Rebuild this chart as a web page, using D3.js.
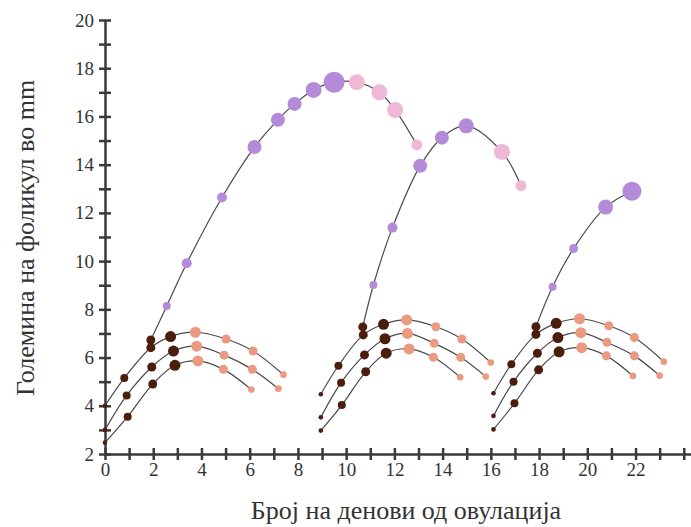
<!DOCTYPE html>
<html lang="mk">
<head>
  <meta charset="UTF-8">
  <title>Големина на фоликул</title>
  <style>
    body { margin: 0; background: #fff; }
    svg { display: block; }
    .axis path, .axis line { stroke: #3a3a3a; stroke-width: 2.5px; }
    .title { font-family: "Liberation Serif", "DejaVu Serif", serif; font-size: 26px; fill: #333; }
    .curve { fill: none; stroke: #4a4a4a; stroke-width: 1.2px; }
  </style>
</head>
<body>
  <svg width="691" height="527"></svg>
  <script src="https://d3js.org/d3.v7.min.js"></script>
  <script>
    // x = days from ovulation, y = follicle size (mm)
    const xTicks = d3.range(0, 25);
    const yTicks = d3.range(2, 21);

    // small follicles, wave 1
    const w1Top = [[0, 4.0], [0.8, 5.15], [1.9, 6.41], [2.72, 6.87], [3.75, 7.05], [5.02, 6.77], [6.14, 6.27], [7.4, 5.29]];
    const w1Mid = [[0, 3.0], [0.9, 4.43], [1.94, 5.61], [2.84, 6.27], [3.8, 6.47], [4.94, 6.1], [6.11, 5.51], [7.19, 4.71]];
    const w1Low = [[0, 2.47], [0.94, 3.55], [1.98, 4.9], [2.9, 5.68], [3.85, 5.86], [4.91, 5.51], [6.07, 4.67]];

    // small follicles, wave 2
    const w2Top = [[8.95, 4.48], [9.68, 5.66], [10.71, 6.94], [11.55, 7.38], [12.51, 7.56], [13.72, 7.28], [14.8, 6.77], [16.0, 5.79]];
    const w2Mid = [[8.95, 3.52], [9.79, 4.96], [10.76, 6.11], [11.61, 6.78], [12.54, 7.0], [13.65, 6.59], [14.75, 6.01], [15.79, 5.21]];
    const w2Low = [[8.95, 2.97], [9.82, 4.03], [10.81, 5.41], [11.66, 6.18], [12.61, 6.36], [13.62, 6.01], [14.73, 5.18]];

    // small follicles, wave 3
    const w3Top = [[16.11, 4.52], [16.85, 5.72], [17.87, 6.96], [18.71, 7.42], [19.68, 7.61], [20.89, 7.32], [21.95, 6.83], [23.17, 5.83]];
    const w3Mid = [[16.11, 3.58], [16.94, 5.0], [17.93, 6.18], [18.78, 6.83], [19.73, 7.03], [20.81, 6.63], [21.95, 6.07], [23.0, 5.25]];
    const w3Low = [[16.11, 3.02], [16.98, 4.1], [17.98, 5.49], [18.83, 6.24], [19.77, 6.41], [20.79, 6.07], [21.89, 5.24]];

    // dominant follicles
    const w1Dom = [[1.9, 6.73], [2.56, 8.14], [3.39, 9.91], [4.85, 12.64], [6.2, 14.73], [7.17, 15.86], [7.86, 16.52], [8.65, 17.1], [9.5, 17.42],
                   [10.44, 17.42], [11.38, 17.0], [12.03, 16.27], [12.93, 14.82]];
    const w2Dom = [[10.69, 7.27], [11.13, 9.01], [11.92, 11.39], [13.07, 13.95], [13.97, 15.12], [14.98, 15.61], [16.46, 14.53], [17.25, 13.13]];
    const w3Dom = [[17.87, 7.28], [18.56, 8.94], [19.43, 10.52], [20.76, 12.24], [21.85, 12.9]];

    // marker styling
    const dark = "#4b1d0d", salmon = "#e99a80", purple = "#b48bd8", pink = "#efb8d5";
    const smallR = [2.3, 4, 4.5, 5.5, 5.5, 4.5, 4.5, 3.3];
    const smallRShort = [2.3, 4, 4.5, 5.5, 5.5, 4.5, 3.3];
    const w1DomR = [4.5, 4, 5, 5, 7, 7, 7, 8, 10.5, 8, 8, 8, 5.5];
    const w1DomC = [dark, purple, purple, purple, purple, purple, purple, purple, purple, pink, pink, pink, pink];
    const w2DomR = [4.5, 4, 5, 7, 7, 7.5, 8, 5.5];
    const w2DomC = [dark, purple, purple, purple, purple, purple, pink, pink];
    const w3DomR = [4.5, 4, 4.5, 7.5, 9.5];
    const w3DomC = [dark, purple, purple, purple, purple];

    const svg = d3.select("svg");
    const x = d3.scaleLinear().domain([0, 24.3]).range([105, 691]);
    const y = d3.scaleLinear().domain([2, 20]).range([454, 20]);

    const line = d3.line()
      .x(d => x(d[0]))
      .y(d => y(d[1]))
      .curve(d3.curveCatmullRom.alpha(0.5));

    // axes
    const xAxis = svg.append("g")
      .attr("class", "axis")
      .attr("transform", `translate(0,${y(2)})`)
      .call(d3.axisBottom(x).tickValues(xTicks).tickSize(6).tickSizeOuter(0)
        .tickFormat(d => d % 2 === 0 && d < 24 ? d : ""));
    xAxis.selectAll(".tick line").attr("y1", -6).attr("y2", 6);
    xAxis.selectAll(".tick text").attr("y", 9);

    const yAxis = svg.append("g")
      .attr("class", "axis")
      .attr("transform", `translate(${x(0)},0)`)
      .call(d3.axisLeft(y).tickValues(yTicks).tickSize(6).tickSizeOuter(0)
        .tickFormat(d => d % 2 === 0 ? d : ""));
    yAxis.selectAll(".tick line").attr("x1", -6).attr("x2", 6);
    yAxis.selectAll(".tick text").attr("x", -11);

    svg.selectAll(".axis")
      .attr("font-family", "'Liberation Serif', 'DejaVu Serif', serif")
      .attr("font-size", 19);
    svg.selectAll(".axis text").attr("fill", "#333");

    // small follicle curves
    const smallSeries = [w1Top, w1Mid, w1Low, w2Top, w2Mid, w2Low, w3Top, w3Mid, w3Low];
    const domSeries = [
      { pts: w1Dom, r: w1DomR, c: w1DomC },
      { pts: w2Dom, r: w2DomR, c: w2DomC },
      { pts: w3Dom, r: w3DomR, c: w3DomC }
    ];

    const plot = svg.append("g");

    smallSeries.forEach(s => {
      plot.append("path").attr("class", "curve").attr("d", line(s));
    });
    domSeries.forEach(s => {
      plot.append("path").attr("class", "curve").attr("d", line(s.pts));
    });

    smallSeries.forEach(s => {
      const radii = s.length === 8 ? smallR : smallRShort;
      plot.selectAll(null)
        .data(s)
        .join("circle")
        .attr("cx", d => x(d[0]))
        .attr("cy", d => y(d[1]))
        .attr("r", (d, i) => radii[i])
        .attr("fill", (d, i) => i < 4 ? dark : salmon);
    });

    domSeries.forEach(s => {
      plot.selectAll(null)
        .data(s.pts)
        .join("circle")
        .attr("cx", d => x(d[0]))
        .attr("cy", d => y(d[1]))
        .attr("r", (d, i) => s.r[i])
        .attr("fill", (d, i) => s.c[i]);
    });

    // titles
    svg.append("text")
      .attr("class", "title")
      .attr("text-anchor", "middle")
      .attr("transform", "translate(34,238) rotate(-90)")
      .text("Големина на фоликул во mm");

    svg.append("text")
      .attr("class", "title")
      .attr("text-anchor", "middle")
      .attr("x", 406)
      .attr("y", 519)
      .text("Број на денови од овулација");
  </script>
</body>
</html>
